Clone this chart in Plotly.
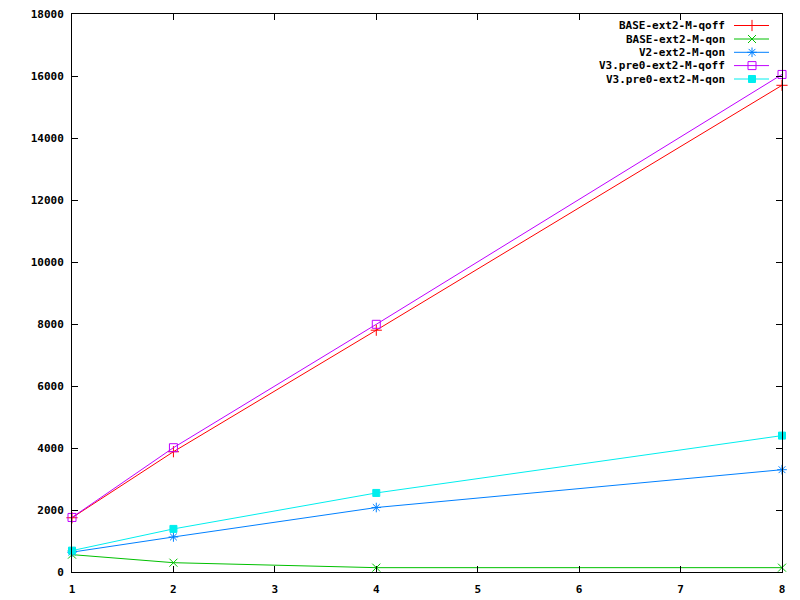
import plotly.graph_objects as go

x_vals = [1, 2, 4, 8]
base_qoff = [1750, 3880, 7800, 15700]
base_qon = [560, 300, 140, 140]
v2_qon = [640, 1130, 2080, 3300]
v3_qoff = [1760, 4010, 7990, 16050]
v3_qon = [690, 1390, 2550, 4400]

names = ["BASE-ext2-M-qoff", "BASE-ext2-M-qon", "V2-ext2-M-qon",
         "V3.pre0-ext2-M-qoff", "V3.pre0-ext2-M-qon"]
series = [base_qoff, base_qon, v2_qon, v3_qoff, v3_qon]
colors = ["#ff0000", "#00c000", "#0080ff", "#c000ff", "#00eeee"]
symbols = ["cross-thin", "x-thin", "asterisk", "square-open", "square"]
msizes = [8, 8, 8, 8, 7]

y_ticks = list(range(0, 18001, 2000))
y_ticktext = [str(v) for v in y_ticks]
x_ticks = list(range(1, 9))
x_ticktext = [str(v) for v in x_ticks]

FONT = dict(family="DejaVu Sans Mono, Liberation Mono, monospace", size=11, color="black", weight="bold")

# page body has an 8px margin, so the figure is 792x592 placed at (8,8)
OFF = 8
L, R, T, B = 72, 782, 14, 572   # target plot box in window pixels

fig = go.Figure()
for name, ys, c, s, ms in zip(names, series, colors, symbols, msizes):
    fig.add_trace(go.Scatter(
        x=x_vals, y=ys, name=name, mode="lines+markers",
        line=dict(color=c, width=1),
        marker=dict(symbol=s, size=ms, color=c, line=dict(color=c, width=1)),
        showlegend=False, cliponaxis=False))

# gnuplot-style legend: text right-aligned, sample to the right
rows = [25.5, 39, 52.3, 65.6, 79]
for i, (name, c, s, ms) in enumerate(zip(names, colors, symbols, msizes)):
    yrow = rows[i]
    fig.add_trace(go.Scatter(
        x=[734, 752, 769], y=[yrow, yrow, yrow], xaxis="x2", yaxis="y2",
        mode="lines", line=dict(color=c, width=1), showlegend=False, hoverinfo="skip"))
    fig.add_trace(go.Scatter(
        x=[752], y=[yrow], xaxis="x2", yaxis="y2", mode="markers",
        marker=dict(symbol=s, size=ms, color=c, line=dict(color=c, width=1)),
        showlegend=False, hoverinfo="skip"))
    fig.add_annotation(x=727, y=yrow, xref="x2", yref="y2", text=name,
                       showarrow=False, xanchor="right", yanchor="middle",
                       font=FONT)

fig.update_layout(
    width=800 - OFF, height=600 - OFF,
    margin=dict(l=L - OFF, r=800 - R, t=T - OFF, b=600 - B, autoexpand=False),
    paper_bgcolor="white", plot_bgcolor="white",
    font=FONT,
    showlegend=False,
    xaxis=dict(range=[1, 8], tickvals=x_ticks, ticktext=x_ticktext, ticks="inside", ticklen=6,
               tickcolor="black", showline=True, linecolor="black", linewidth=1,
               mirror="ticks", showgrid=False, zeroline=False, tickfont=FONT,
               ticklabeloverflow="allow", ticklabelstandoff=7),
    yaxis=dict(range=[0, 18000], tickvals=y_ticks, ticktext=y_ticktext, ticks="inside", ticklen=6,
               tickcolor="black", showline=True, linecolor="black", linewidth=1,
               mirror="ticks", showgrid=False, zeroline=False, tickfont=FONT,
               ticklabeloverflow="allow", ticklabelstandoff=5),
    xaxis2=dict(overlaying="x", range=[L, R], visible=False, fixedrange=True),
    yaxis2=dict(overlaying="y", range=[B, T], visible=False, fixedrange=True),
)

fig.write_html("out.html")
